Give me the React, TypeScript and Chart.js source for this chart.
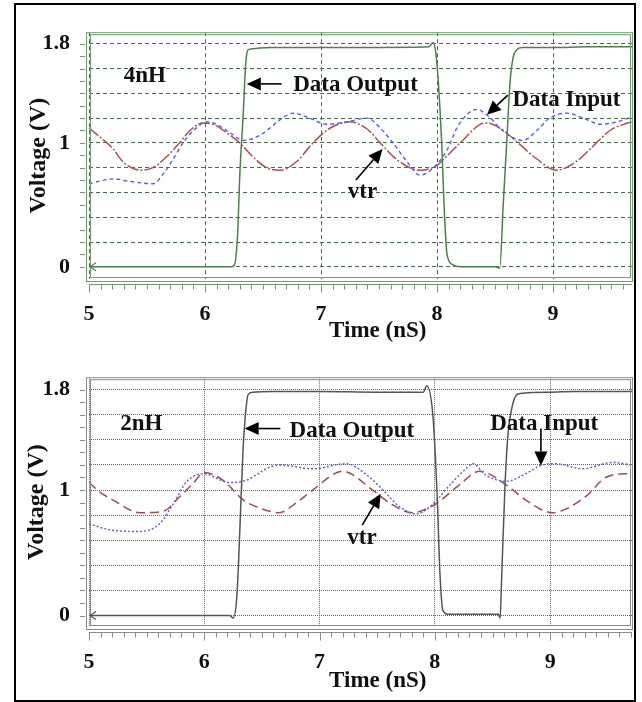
import React, { useEffect, useRef } from 'react';
import { Chart, registerables } from 'chart.js';

Chart.register(...registerables);

// ---------- data (time in nS, voltage in V) ----------
// top panel: 4nH
const topOutT = [5.0, 6.22, 6.25, 6.28, 6.30, 6.33, 6.35, 6.37, 6.41, 6.56, 7.0, 7.5, 7.93, 7.965, 7.99, 8.01, 8.04, 8.06, 8.086, 8.13, 8.2, 8.5, 8.54, 8.57, 8.60, 8.63, 8.67, 8.74, 9.0, 9.3, 9.68];
const topOutV = [0.0, 0.0, 0.01, 0.25, 0.75, 1.25, 1.63, 1.75, 1.76, 1.77, 1.77, 1.77, 1.775, 1.81, 1.72, 1.5, 1.0, 0.5, 0.1, 0.02, 0.0, 0.0, -0.01, 0.5, 1.0, 1.5, 1.73, 1.77, 1.77, 1.775, 1.775];
const topVtrT = [5.0, 5.09, 5.21, 5.29, 5.44, 5.55, 5.67, 5.78, 5.87, 5.98, 6.07, 6.19, 6.30, 6.41, 6.53, 6.65, 6.79, 6.93, 7.08, 7.25, 7.40, 7.51, 7.66, 7.85, 8.0, 8.09, 8.22, 8.37, 8.43, 8.54, 8.71, 8.86, 9.03, 9.2, 9.34, 9.49, 9.64, 9.68];
const topVtrV = [1.12, 1.05, 0.95, 0.85, 0.78, 0.80, 0.89, 1.0, 1.1, 1.16, 1.15, 1.08, 1.0, 0.89, 0.80, 0.78, 0.85, 1.0, 1.12, 1.17, 1.11, 1.0, 0.86, 0.78, 0.82, 0.9, 1.02, 1.15, 1.16, 1.12, 0.99, 0.87, 0.78, 0.85, 0.97, 1.1, 1.16, 1.17];
const topInT = [5.0, 5.21, 5.35, 5.55, 5.64, 5.72, 5.81, 5.90, 6.02, 6.10, 6.22, 6.33, 6.45, 6.56, 6.65, 6.76, 6.90, 7.05, 7.22, 7.40, 7.51, 7.62, 7.74, 7.85, 7.97, 8.09, 8.17, 8.26, 8.34, 8.46, 8.54, 8.66, 8.74, 8.86, 8.97, 9.12, 9.26, 9.41, 9.55, 9.68];
const topInV = [0.67, 0.71, 0.69, 0.67, 0.75, 0.86, 1.0, 1.1, 1.17, 1.15, 1.08, 1.02, 1.05, 1.12, 1.19, 1.24, 1.2, 1.15, 1.17, 1.2, 1.12, 1.0, 0.85, 0.74, 0.8, 0.95, 1.12, 1.23, 1.27, 1.2, 1.12, 1.04, 1.02, 1.1, 1.2, 1.24, 1.2, 1.15, 1.17, 1.21];

// bottom panel: 2nH
const botOutT = [5.0, 6.22, 6.25, 6.284, 6.31, 6.336, 6.354, 6.38, 6.42, 6.6, 7.0, 7.5, 7.90, 7.93, 7.985, 8.02, 8.045, 8.07, 8.12, 8.3, 8.55, 8.566, 8.58, 8.61, 8.635, 8.68, 8.74, 9.0, 9.2, 9.71];
const botOutV = [0.0, 0.0, -0.02, 0.17, 0.72, 1.32, 1.57, 1.76, 1.78, 1.785, 1.785, 1.78, 1.78, 1.83, 1.57, 0.95, 0.32, 0.04, 0.01, 0.01, 0.01, -0.02, 0.32, 1.07, 1.45, 1.7, 1.77, 1.78, 1.785, 1.785];
const botVtrT = [5.0, 5.1, 5.21, 5.44, 5.64, 5.79, 5.9, 6.0, 6.16, 6.34, 6.5, 6.65, 6.8, 6.94, 7.2, 7.46, 7.62, 7.8, 8.0, 8.21, 8.39, 8.62, 8.79, 9.02, 9.31, 9.48, 9.66, 9.71];
const botVtrV = [1.06, 0.98, 0.92, 0.82, 0.83, 0.95, 1.05, 1.14, 1.08, 0.92, 0.85, 0.82, 0.9, 1.0, 1.15, 1.0, 0.89, 0.82, 0.885, 1.04, 1.15, 1.04, 0.92, 0.82, 0.95, 1.1, 1.13, 1.13];
const botInT = [5.0, 5.2, 5.44, 5.61, 5.73, 5.85, 5.99, 6.22, 6.37, 6.54, 6.65, 6.94, 7.23, 7.41, 7.55, 7.69, 7.84, 7.98, 8.13, 8.27, 8.33, 8.44, 8.62, 8.79, 8.93, 9.05, 9.28, 9.54, 9.71];
const botInV = [0.73, 0.68, 0.67, 0.73, 0.89, 1.07, 1.13, 1.06, 1.08, 1.17, 1.2, 1.17, 1.21, 1.12, 1.0, 0.87, 0.81, 0.885, 1.04, 1.17, 1.21, 1.12, 1.07, 1.13, 1.2, 1.21, 1.17, 1.22, 1.2];

// axes
const xTickValues = [5, 6, 7, 8, 9];
const yGridValues = [0, 0.2, 0.4, 0.6, 0.8, 1, 1.2, 1.4, 1.6, 1.8];
const yLabelValues = [0, 1, 1.8];
const xTitle = 'Time (nS)';
const yTitle = 'Voltage (V)';

// annotations (data coordinates)
const topNotes = [
  { text: '4nH', t: 5.30, v: 1.49 },
  { text: 'Data Output', t: 6.76, v: 1.42 },
  { text: 'Data Input', t: 8.65, v: 1.30 },
  { text: 'vtr', t: 7.23, v: 0.557 },
];
const topArrows = [
  { t0: 6.66, v0: 1.476, t1: 6.36, v1: 1.476 },
  { t0: 8.61, v0: 1.385, t1: 8.43, v1: 1.227 },
  { t0: 7.30, v0: 0.70, t1: 7.53, v1: 0.95 },
];
const botNotes = [
  { text: '2nH', t: 5.27, v: 1.48 },
  { text: 'Data Output', t: 6.74, v: 1.42 },
  { text: 'Data Input', t: 8.48, v: 1.475 },
  { text: 'vtr', t: 7.24, v: 0.567 },
];
const botArrows = [
  { t0: 6.66, v0: 1.49, t1: 6.35, v1: 1.49 },
  { t0: 8.92, v0: 1.49, t1: 8.92, v1: 1.195 },
  { t0: 7.37, v0: 0.72, t1: 7.53, v1: 0.97 },
];

const SERIF = '"Liberation Serif", "Times New Roman", Times, serif';

const zip = (ts: number[], vs: number[]) => ts.map((t, i) => ({ x: t, y: vs[i] }));

const decorPlugin = {
  id: 'panelDecor',
  afterDatasetsDraw(chart: any, _args: any, o: any) {
    const { ctx, chartArea: a, scales } = chart;
    const xs = scales.x;
    const ys = scales.y;
    ctx.save();
    // frame (double line)
    ctx.strokeStyle = o.frameColor;
    ctx.lineWidth = 1;
    ctx.setLineDash([]);
    ctx.strokeRect(a.left - 2.5, a.top + 0.5, a.right - a.left + 3, a.bottom - a.top + 2);
    ctx.strokeRect(a.left + 1.5, a.top + 2.5, a.right - a.left - 3, a.bottom - a.top - 4);
    // x axis tick strip
    const ay = Math.round(a.bottom + 5) + 0.5;
    ctx.beginPath();
    ctx.moveTo(a.left, ay);
    ctx.lineTo(a.right, ay);
    for (let k = 50; k <= Math.floor(xs.max * 10); k++) {
      const px = Math.round(xs.getPixelForValue(k / 10)) + 0.5;
      const len = k % 10 === 0 ? 8 : 5;
      ctx.moveTo(px, ay);
      ctx.lineTo(px, ay + len);
    }
    for (let k = 0; k <= 18; k++) {
      const py = Math.round(ys.getPixelForValue(k / 10)) + 0.5;
      ctx.moveTo(a.left - 9, py);
      ctx.lineTo(a.left - 4, py);
    }
    ctx.stroke();

    // small start marker on output trace
    const meta = chart.getDatasetMeta(0);
    if (meta && meta.data && meta.data[0]) {
      const p = meta.data[0];
      ctx.strokeStyle = o.outColor;
      ctx.lineWidth = 1.2;
      ctx.beginPath();
      ctx.moveTo(p.x + 7, p.y - 4);
      ctx.lineTo(p.x + 1, p.y);
      ctx.lineTo(p.x + 7, p.y + 4);
      ctx.stroke();
    }

    // arrows
    ctx.strokeStyle = '#000';
    ctx.fillStyle = '#000';
    ctx.lineWidth = 1.6;
    for (const ar of o.arrows) {
      const x0 = xs.getPixelForValue(ar.t0);
      const y0 = ys.getPixelForValue(ar.v0);
      const x1 = xs.getPixelForValue(ar.t1);
      const y1 = ys.getPixelForValue(ar.v1);
      const ang = Math.atan2(y1 - y0, x1 - x0);
      const hl = 14;
      const hw = 6.5;
      const bx = x1 - hl * Math.cos(ang);
      const by = y1 - hl * Math.sin(ang);
      ctx.beginPath();
      ctx.moveTo(x0, y0);
      ctx.lineTo(bx, by);
      ctx.stroke();
      ctx.beginPath();
      ctx.moveTo(x1, y1);
      ctx.lineTo(bx + hw * Math.sin(ang), by - hw * Math.cos(ang));
      ctx.lineTo(bx - hw * Math.sin(ang), by + hw * Math.cos(ang));
      ctx.closePath();
      ctx.fill();
    }
    // notes
    ctx.font = `bold 23px ${SERIF}`;
    ctx.fillStyle = '#111';
    ctx.textAlign = 'left';
    ctx.textBaseline = 'alphabetic';
    for (const n of o.notes) {
      ctx.fillText(n.text, xs.getPixelForValue(n.t), ys.getPixelForValue(n.v));
    }
    ctx.restore();
  },
};

type Panel = {
  outT: number[]; outV: number[]; vtrT: number[]; vtrV: number[]; inT: number[]; inV: number[];
  notes: any[]; arrows: any[];
  xMax: number; yMin: number; yMax: number;
  padTop: number; xAxisHeight: number; xTitlePad: number; yTitlePad: number;
  frameColor: string; gridColor: string; gridDash: number[];
  outColor: string; vtrColor: string; vtrDash: number[]; inColor: string; inDash: number[];
};

function makeConfig(p: Panel): any {
  return {
    type: 'line',
    data: {
      datasets: [
        {
          label: 'Data Output', data: zip(p.outT, p.outV), borderColor: p.outColor, borderWidth: 1.5,
          pointRadius: 0, cubicInterpolationMode: 'monotone', fill: false,
        },
        {
          label: 'Data Input', data: zip(p.inT, p.inV), borderColor: p.inColor, borderWidth: 1.4,
          borderDash: p.inDash, pointRadius: 0, cubicInterpolationMode: 'monotone', fill: false,
        },
        {
          label: 'vtr', data: zip(p.vtrT, p.vtrV), borderColor: p.vtrColor, borderWidth: 1.5,
          borderDash: p.vtrDash, pointRadius: 0, cubicInterpolationMode: 'monotone', fill: false,
        },
      ],
    },
    options: {
      animation: false,
      responsive: false,
      devicePixelRatio: 1,
      events: [],
      layout: { padding: { top: p.padTop, right: 10, left: 0, bottom: 0 } },
      plugins: {
        legend: { display: false },
        tooltip: { enabled: false },
        panelDecor: { frameColor: p.frameColor, outColor: p.outColor, notes: p.notes, arrows: p.arrows },
      },
      scales: {
        x: {
          type: 'linear', min: 5, max: p.xMax,
          afterBuildTicks: (s: any) => { s.ticks = xTickValues.map((v) => ({ value: v })); },
          afterFit: (s: any) => { s.height = p.xAxisHeight; },
          grid: { color: p.gridColor, lineWidth: 1, drawTicks: false },
          border: { display: false, dash: p.gridDash },
          ticks: {
            autoSkip: false, maxRotation: 0, padding: 22, color: '#111',
            font: { family: SERIF, size: 22, weight: 'bold' },
            callback: (v: any) => String(v),
          },
          title: {
            display: true, text: '      ' + xTitle, color: '#111',
            font: { family: SERIF, size: 23, weight: 'bold' }, padding: { top: 0, bottom: p.xTitlePad },
          },
        },
        y: {
          type: 'linear', min: p.yMin, max: p.yMax,
          afterBuildTicks: (s: any) => { s.ticks = yGridValues.map((v) => ({ value: v })); },
          afterFit: (s: any) => { s.width = 89; },
          grid: { color: p.gridColor, lineWidth: 1, drawTicks: false },
          border: { display: false, dash: p.gridDash },
          ticks: {
            autoSkip: false, padding: 19, color: '#111',
            font: { family: SERIF, size: 22, weight: 'bold' },
            callback: (v: any) => (yLabelValues.includes(v) ? String(v) : ''),
          },
          title: {
            display: true, text: yTitle, color: '#111',
            font: { family: SERIF, size: 24, weight: 'bold' }, padding: { top: p.yTitlePad, bottom: 0 },
          },
        },
      },
    },
    plugins: [decorPlugin],
  };
}

const topPanel: Panel = {
  outT: topOutT, outV: topOutV, vtrT: topVtrT, vtrV: topVtrV, inT: topInT, inV: topInV,
  notes: topNotes, arrows: topArrows,
  xMax: 9.68, yMin: -0.098, yMax: 1.893,
  padTop: 15, xAxisHeight: 66, xTitlePad: 0, yTitlePad: 24,
  frameColor: '#6f9f6f', gridColor: '#3f723f', gridDash: [4, 3],
  outColor: '#4a824a', vtrColor: '#b24c4c', vtrDash: [12, 2, 2, 2], inColor: '#5a5aff', inDash: [4, 3],
};

const botPanel: Panel = {
  outT: botOutT, outV: botOutV, vtrT: botVtrT, vtrV: botVtrV, inT: botInT, inV: botInV,
  notes: botNotes, arrows: botArrows,
  xMax: 9.71, yMin: -0.091, yMax: 1.899,
  padTop: 19, xAxisHeight: 75, xTitlePad: 7, yTitlePad: 22,
  frameColor: '#8a8a8a', gridColor: '#666666', gridDash: [1, 1],
  outColor: '#555555', vtrColor: '#a84a4a', vtrDash: [9, 5], inColor: '#5555ff', inDash: [2, 2],
};

function PanelChart({ panel, top, height }: { panel: Panel; top: number; height: number }) {
  const ref = useRef<HTMLCanvasElement | null>(null);
  useEffect(() => {
    if (!ref.current) return;
    const chart = new Chart(ref.current, makeConfig(panel));
    return () => chart.destroy();
  }, [panel]);
  return (
    <canvas
      ref={ref}
      width={642}
      height={height}
      style={{ position: 'absolute', left: 0, top, width: 642, height }}
    />
  );
}

export default function App() {
  return (
    <div style={{ position: 'absolute', left: 0, top: 0, width: 642, height: 702, background: '#fff', overflow: 'hidden' }}>
      <PanelChart panel={topPanel} top={0} height={345} />
      <PanelChart panel={botPanel} top={345} height={357} />
      <div
        style={{
          position: 'absolute', left: 14, top: 3, width: 622, height: 699,
          border: '2px solid #000', boxSizing: 'border-box', pointerEvents: 'none',
        }}
      />
    </div>
  );
}
